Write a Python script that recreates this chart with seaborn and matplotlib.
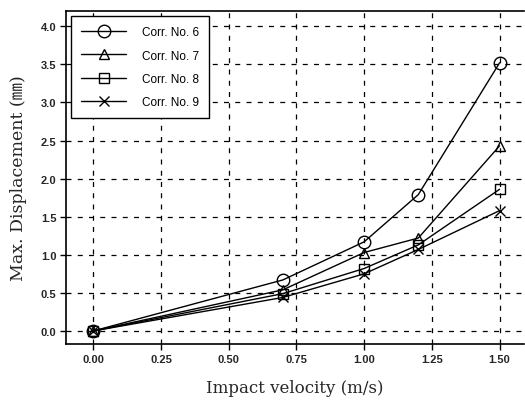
import matplotlib
matplotlib.use("Agg")
import matplotlib.pyplot as plt
import seaborn as sns
import pandas as pd

velocity = [0.0, 0.7, 1.0, 1.2, 1.5]
corr6 = [0.0, 0.67, 1.17, 1.79, 3.52]
corr7 = [0.0, 0.54, 1.03, 1.22, 2.43]
corr8 = [0.0, 0.49, 0.82, 1.13, 1.86]
corr9 = [0.0, 0.44, 0.75, 1.07, 1.58]
series_names = ["Corr. No. 6", "Corr. No. 7", "Corr. No. 8", "Corr. No. 9"]
x_ticks = [0.0, 0.25, 0.5, 0.75, 1.0, 1.25, 1.5]
y_ticks = [0.0, 0.5, 1.0, 1.5, 2.0, 2.5, 3.0, 3.5, 4.0]

rows = []
for name, vals in zip(series_names, [corr6, corr7, corr8, corr9]):
    for v, d in zip(velocity, vals):
        rows.append({"velocity": v, "disp": d, "series": name})
df = pd.DataFrame(rows)

sns.set_theme(style="white")
plt.rcParams['font.family'] = ['Liberation Sans', 'DejaVu Sans']

fig = plt.figure(figsize=(5.25, 4.02), dpi=100)
ax = fig.add_axes([0.126, 0.142, 0.872, 0.828])

markers = {"Corr. No. 6": "o", "Corr. No. 7": "^", "Corr. No. 8": "s", "Corr. No. 9": "x"}
sizes = {"Corr. No. 6": 9, "Corr. No. 7": 7, "Corr. No. 8": 6.5, "Corr. No. 9": 7}
for name in series_names:
    sub = df[df.series == name]
    sns.lineplot(data=sub, x="velocity", y="disp", ax=ax, color="black",
                 marker=markers[name], markersize=sizes[name],
                 markerfacecolor="none", markeredgecolor="black",
                 markeredgewidth=1.0, linewidth=1.0, label=name)

ax.set_xlim(-0.1, 1.59)
ax.set_ylim(-0.17, 4.2)
ax.set_xticks(x_ticks)
ax.set_yticks(y_ticks)
ax.set_xticklabels([f"{t:.2f}" for t in x_ticks], fontsize=8, fontweight="bold")
ax.set_yticklabels([f"{t:.1f}" for t in y_ticks], fontsize=8, fontweight="bold")
ax.tick_params(axis="both", direction="out", length=4, width=1, color="black",
               bottom=True, left=True, pad=3)
ax.grid(True, color="black", linestyle=(0, (4, 5)), linewidth=0.9)

for side in ["left", "bottom", "top"]:
    ax.spines[side].set_visible(True)
    ax.spines[side].set_color("black")
    ax.spines[side].set_linewidth(1.2)
ax.spines["right"].set_visible(False)

ax.set_xlabel("Impact velocity (m/s)", fontsize=12,
              family=["DejaVu Serif", "Noto Sans CJK JP"], labelpad=11)
ax.set_ylabel("Max. Displacement (㎜)", fontsize=12.5,
              family=["DejaVu Serif", "Noto Sans CJK JP"], labelpad=10)

leg = ax.legend(loc="upper left", bbox_to_anchor=(0.0, 1.0), borderaxespad=0.45,
                frameon=True, framealpha=1.0, facecolor="white",
                fancybox=False, edgecolor="black", fontsize=8.5,
                handlelength=3.8, borderpad=0.85, labelspacing=0.95, handletextpad=1.3)
leg.get_frame().set_linewidth(1.0)
for t in leg.get_texts():
    t.set_color("black")

fig.savefig("out.png", dpi=100, facecolor="white")
